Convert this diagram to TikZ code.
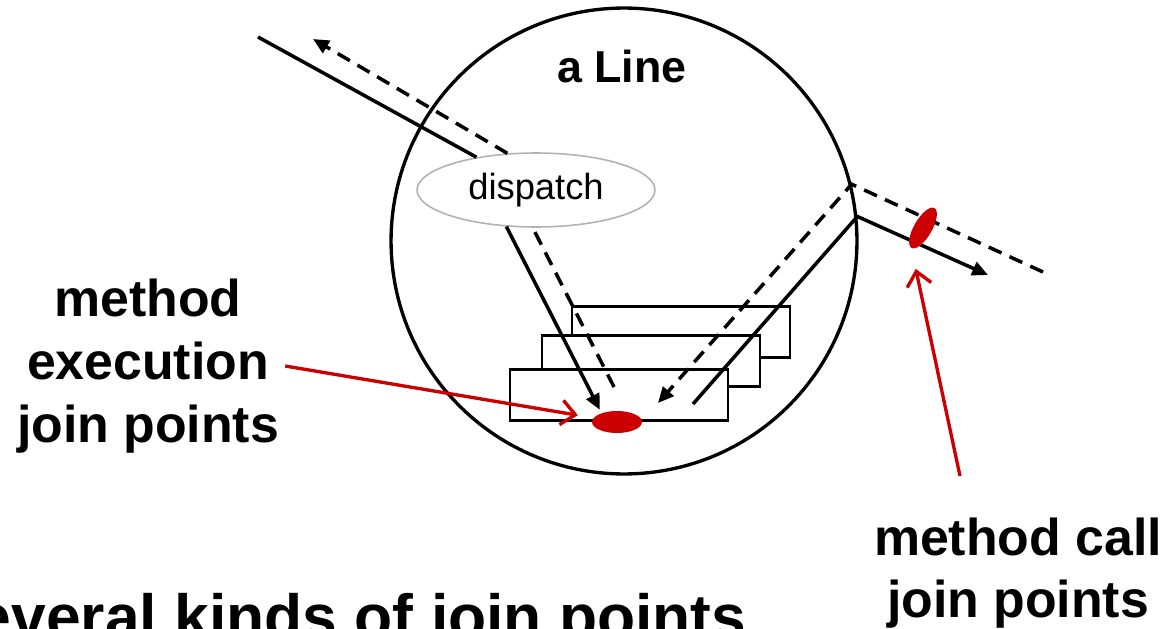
\documentclass[tikz,border=0pt]{standalone}
\usepackage{fontspec}
\setmainfont{Liberation Sans}
\usetikzlibrary{arrows.meta,shapes.geometric}
\definecolor{jpred}{HTML}{CC0000}
\tikzset{
  conn/.style={line width=2pt},
  back/.style={conn, dash pattern=on 8pt off 5pt},
  tip/.style={-{Triangle[length=9pt,width=8pt]}},
  pointer/.style={jpred, line width=1.9pt, -{Straight Barb[length=8pt,width=14pt]}},
  frame/.style={draw, line width=1.5pt, fill=white, minimum width=4.36cm, minimum height=1.02cm, inner sep=0pt},
  jp/.style={ellipse, fill=jpred, inner sep=0pt},
  big label/.style={font=\bfseries\fontsize{29.5}{35.7}\selectfont, align=center}
}

\begin{document}
\begin{tikzpicture}[x=0.02cm, y=-0.02cm]
  \useasboundingbox (0,0) rectangle (1168,628);
  \clip (0,0) rectangle (1168,628);

  \node[circle, draw, line width=1.9pt, minimum size=9.32cm, inner sep=0pt] (line) at (624,241) {};
  \node[font=\bfseries\fontsize{25.5}{30}\selectfont] (name) at (622,66) {a Line};

  \node[frame] (m3) at (681,332) {};
  \node[frame] (m2) at (651,361) {};
  \node[frame] (m1) at (619,395) {};
  \node[jp, minimum width=1cm, minimum height=0.44cm] (exec) at (617,422) {};

  \node[ellipse, draw=gray!60, line width=0.9pt, fill=white, minimum width=4.76cm, minimum height=1.48cm,
        font=\fontsize{20.7}{24}\selectfont] (dispatch) at (536,190) {dispatch};

  \coordinate (inA) at (258,37);
  \coordinate (outA) at (313,39);
  \coordinate (ret1) at (614,387);
  \coordinate (src2) at (693,404);
  \coordinate (ret2) at (658,403);
  \coordinate (outB) at (988,275);
  \coordinate (inB) at (1043,272);
  \coordinate (callsrc) at (960,476);

  \draw[conn] (inA) -- (dispatch);
  \draw[back, tip] (dispatch.128) -- (outA);
  \draw[conn, tip, shorten >=2pt] (dispatch.231) -- (exec.150);
  \draw[back] (ret1) -- (dispatch.265);
  \draw[conn, tip] (src2) -- (line.6) -- (outB);
  \draw[back, tip] (inB) -- (line.14) -- (ret2);

  \node[jp, rotate=60, minimum width=0.92cm, minimum height=0.36cm] (call) at (923,228) {};

  \node[big label] (mexec) at (148,366) {method\\execution\\join points};
  \node[big label] (mcall) at (1018,573) {method call\\join points};
  \node[anchor=base west, inner sep=0pt, font=\bfseries\fontsize{35.5}{42}\selectfont] (summary) at (-65,638) {Several kinds of join points};

  \draw[pointer, shorten >=9pt] (mexec.east) -- (exec.170);
  \draw[pointer, shorten >=12pt] (callsrc) -- (call.west);
\end{tikzpicture}
\end{document}
